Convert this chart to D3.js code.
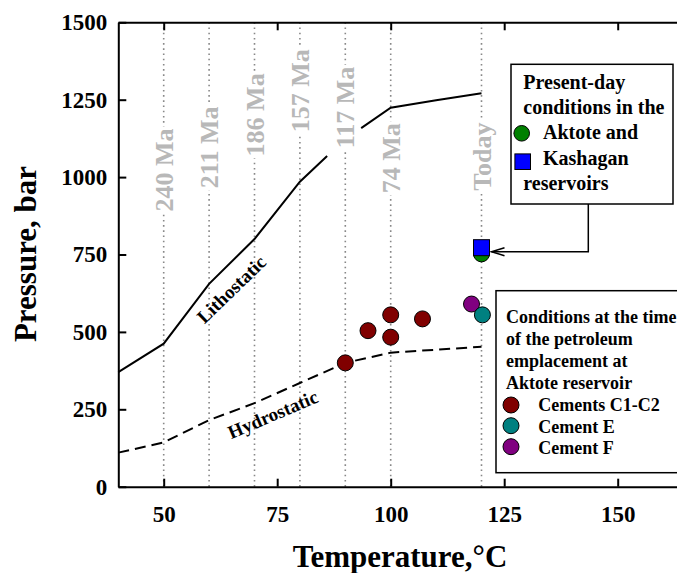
<!DOCTYPE html>
<html><head><meta charset="utf-8">
<script src="https://cdn.jsdelivr.net/npm/d3@7"></script>
<style>
body{margin:0;background:#fff}
text{font-family:"Liberation Serif","Times New Roman",serif;font-weight:bold}
</style>
</head><body><svg id="c" width="677" height="573"></svg>
<script>
// ---- data ----
const tempTicks = [50, 75, 100, 125, 150];
const pressureTicks = [0, 250, 500, 750, 1000, 1250, 1500];
const ageTemps = [50, 60, 70, 80, 90, 100, 120];
const ageLabels = ["240 Ma", "211 Ma", "186 Ma", "157 Ma", "117 Ma", "74 Ma", "Today"];
const ageLabelPressure = [1023, 1096, 1201, 1279, 1225, 1061, 1066];
const lithoTemp = [40, 50, 60, 70, 80, 86, null, 93.5, 100, 110, 120];
const lithoPressure = [370, 462, 655, 800, 985, 1068, null, 1158, 1224, 1248, 1271];
const hydroTemp = [40, 50, 60, 70, 80, 90, 100, 120];
const hydroPressure = [110, 143, 215, 270, 335, 400, 433, 452];
const c12Temp = [90, 95, 100, 100, 107];
const c12Pressure = [400, 504, 555, 483, 542];
const eTemp = [120.2];
const ePressure = [555];
const fTemp = [117.8];
const fPressure = [590];
const aktoteTemp = [120];
const aktotePressure = [752];
const kashaganTemp = [120];
const kashaganPressure = [772];
const legend1Lines = ["Present-day", "conditions in the", "Aktote and", "Kashagan", "reservoirs"];
const legend2Lines = ["Conditions at the time", "of the petroleum", "emplacement at", "Aktote reservoir"];
const legend2Items = ["Cements C1-C2", "Cement E", "Cement F"];
const colors = {c12: "#800000", e: "#008080", f: "#800080", aktote: "#008000", kashagan: "#0000ff"};

// ---- scales ----
const svg = d3.select("#c");
const x = d3.scaleLinear().domain([40, 165]).range([118.3, 685.8]);
const y = d3.scaleLinear().domain([0, 1500]).range([486.7, 22.3]);
const X0 = x.range()[0], Y0 = y.range()[0], Y1 = y.range()[1];

// ---- age dotted lines ----
svg.append("g").selectAll("line").data(ageTemps).join("line")
  .attr("x1", d => x(d)).attr("x2", d => x(d))
  .attr("y1", Y1).attr("y2", Y0)
  .attr("stroke", "#888").attr("stroke-width", 1.6)
  .attr("stroke-dasharray", "1.6,3.6");

// age labels with white background
const ag = svg.append("g");
ageLabels.forEach((lab, i) => {
  const g = ag.append("g")
    .attr("transform", `translate(${x(ageTemps[i]) + 9},${y(ageLabelPressure[i])}) rotate(-90)`);
  const t = g.append("text").attr("text-anchor", "middle")
    .attr("font-size", 26).attr("fill", "#b8b8b8").text(lab);
  const b = t.node().getBBox();
  g.insert("rect", "text").attr("x", b.x - 2).attr("y", b.y + 4)
    .attr("width", b.width + 4).attr("height", b.height - 6).attr("fill", "#fff");
});

// ---- curves ----
const lineGen = d3.line()
  .defined(d => d[0] !== null)
  .x(d => x(d[0])).y(d => y(d[1]));
svg.append("path")
  .attr("d", lineGen(lithoTemp.map((t, i) => [t, lithoPressure[i]])))
  .attr("fill", "none").attr("stroke", "#000").attr("stroke-width", 2);
svg.append("path")
  .attr("d", lineGen(hydroTemp.map((t, i) => [t, hydroPressure[i]])))
  .attr("fill", "none").attr("stroke", "#000").attr("stroke-width", 2)
  .attr("stroke-dasharray", "11,6");

svg.append("text").attr("transform", `translate(${x(65.9)},${y(622)}) rotate(-44)`)
  .attr("text-anchor", "middle").attr("font-size", 19).text("Lithostatic");
svg.append("text").attr("transform", `translate(${x(74.6)},${y(214)}) rotate(-23)`)
  .attr("text-anchor", "middle").attr("font-size", 19).text("Hydrostatic");

// ---- points ----
function circles(ts, ps, col) {
  svg.append("g").selectAll("circle").data(ts).join("circle")
    .attr("cx", d => x(d)).attr("cy", (d, i) => y(ps[i])).attr("r", 8)
    .attr("fill", col).attr("stroke", "#000").attr("stroke-width", 1);
}
circles(c12Temp, c12Pressure, colors.c12);
circles(fTemp, fPressure, colors.f);
circles(eTemp, ePressure, colors.e);
circles(aktoteTemp, aktotePressure, colors.aktote);
svg.append("g").selectAll("rect").data(kashaganTemp).join("rect")
  .attr("x", d => x(d) - 8).attr("y", (d, i) => y(kashaganPressure[i]) - 8)
  .attr("width", 16).attr("height", 16)
  .attr("fill", colors.kashagan).attr("stroke", "#000").attr("stroke-width", 1);

// ---- axes ----
const fs = 23;
const ax = svg.append("g").attr("transform", `translate(0,${Y0})`)
  .call(d3.axisBottom(x).tickValues(tempTicks).tickSize(-8).tickSizeOuter(0).tickPadding(19).tickFormat(d3.format("d")));
const at = svg.append("g").attr("transform", `translate(0,${Y1})`)
  .call(d3.axisTop(x).tickValues(tempTicks).tickSize(-8).tickSizeOuter(0).tickFormat(""));
const ay = svg.append("g").attr("transform", `translate(${X0},0)`)
  .call(d3.axisLeft(y).tickValues(pressureTicks).tickSize(-8).tickSizeOuter(0).tickPadding(11).tickFormat(d3.format("d")));
[ax, at, ay].forEach(g => {
  g.select(".domain").attr("stroke", "#000").attr("stroke-width", 2);
  g.selectAll(".tick line").attr("stroke", "#000").attr("stroke-width", 2);
  g.selectAll(".tick text").attr("font-size", fs).attr("fill", "#000")
    .attr("font-family", "Liberation Serif").attr("font-weight", "bold");
});

svg.append("text").attr("x", 400).attr("y", 567).attr("text-anchor", "middle")
  .attr("font-size", 31).text("Temperature,\u00B0C");
svg.append("text").attr("transform", `translate(36,254) rotate(-90)`)
  .attr("text-anchor", "middle").attr("font-size", 31).text("Pressure, bar");

// ---- legend 1 ----
svg.append("rect").attr("x", 511).attr("y", 64.3).attr("width", 162).attr("height", 139.7)
  .attr("fill", "#fff").attr("stroke", "#000").attr("stroke-width", 1.5);
const l1x = [523.3, 523.3, 543, 543, 523.3];
const l1y = [89, 114, 139, 165, 190];
legend1Lines.forEach((s, i) => {
  svg.append("text").attr("x", l1x[i]).attr("y", l1y[i]).attr("font-size", 20).text(s);
});
svg.append("circle").attr("cx", 521.7).attr("cy", 133.3).attr("r", 7.8)
  .attr("fill", colors.aktote).attr("stroke", "#000").attr("stroke-width", 1);
svg.append("rect").attr("x", 522.7 - 7.8).attr("y", 161.7 - 7.8).attr("width", 15.6).attr("height", 15.6)
  .attr("fill", colors.kashagan).attr("stroke", "#000").attr("stroke-width", 1);

// arrow
const ax0 = x(kashaganTemp[0]) + 10, ay0 = y(kashaganPressure[0]) + 4;
svg.append("path").attr("d", `M588.3,204 V${ay0} H${ax0}`)
  .attr("fill", "none").attr("stroke", "#000").attr("stroke-width", 1.5);
svg.append("path").attr("d", `M${ax0 + 13},${ay0 - 4} L${ax0},${ay0} L${ax0 + 13},${ay0 + 4}`)
  .attr("fill", "none").attr("stroke", "#000").attr("stroke-width", 1.5);

// ---- legend 2 ----
svg.append("rect").attr("x", 496).attr("y", 290.7).attr("width", 190).attr("height", 182)
  .attr("fill", "#fff").attr("stroke", "#000").attr("stroke-width", 1.5);
const l2y = [323.3, 345, 367.3, 389.3];
legend2Lines.forEach((s, i) => {
  svg.append("text").attr("x", 506).attr("y", l2y[i]).attr("font-size", 18).text(s);
});
const l2iy = [410.7, 432.7, 454];
const l2cy = [405, 425.7, 446.7];
const l2col = [colors.c12, colors.e, colors.f];
legend2Items.forEach((s, i) => {
  svg.append("circle").attr("cx", 511).attr("cy", l2cy[i]).attr("r", 8)
    .attr("fill", l2col[i]).attr("stroke", "#000").attr("stroke-width", 1);
  svg.append("text").attr("x", 538.3).attr("y", l2iy[i]).attr("font-size", 18).text(s);
});
</script></body></html>
